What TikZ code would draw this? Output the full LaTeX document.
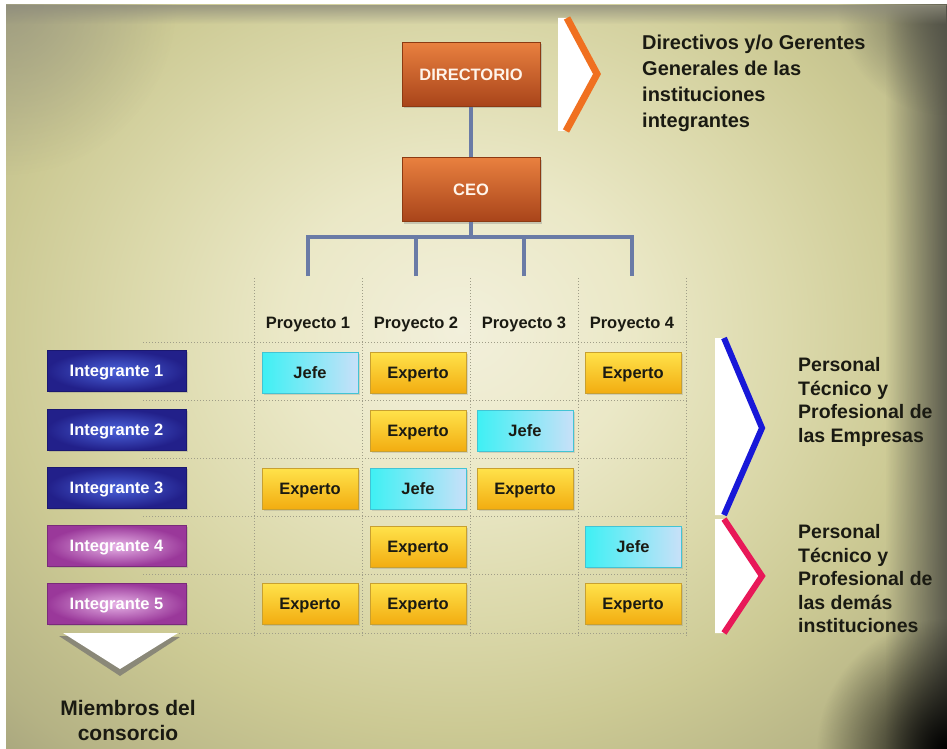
\documentclass[tikz,border=0pt]{standalone}
\usepackage{fontspec}
\setmainfont{Liberation Sans}
\usetikzlibrary{fadings,shadows}

\definecolor{orTop}{HTML}{E8803F}
\definecolor{orBot}{HTML}{A9441A}
\definecolor{orEdge}{HTML}{8C3A12}
\definecolor{connC}{HTML}{6A7BA6}
\definecolor{gridC}{HTML}{A09E88}
\definecolor{bluIn}{HTML}{4A62DA}
\definecolor{bluOut}{HTML}{22208A}
\definecolor{bluEdge}{HTML}{1A1870}
\definecolor{purIn}{HTML}{E6B2E6}
\definecolor{purOut}{HTML}{9A389A}
\definecolor{purEdge}{HTML}{7A2A7A}
\definecolor{jefeL}{HTML}{3EF0F4}
\definecolor{jefeM}{HTML}{EEFCFD}
\definecolor{jefeR}{HTML}{C8E0F8}
\definecolor{jefeEdge}{HTML}{42C4D4}
\definecolor{expTop}{HTML}{FFE24A}
\definecolor{expBot}{HTML}{F2AC10}
\definecolor{expEdge}{HTML}{C8A030}
\definecolor{chevOr}{HTML}{F07020}
\definecolor{chevBl}{HTML}{1818D8}
\definecolor{chevPk}{HTML}{E81858}
\definecolor{txtC}{HTML}{1A1A12}
\definecolor{darkR}{HTML}{505046}
\definecolor{grayTL}{HTML}{8E8C7C}
\definecolor{shadowC}{HTML}{8A8878}

\pgfdeclareradialshading{bgrad}{\pgfpoint{0bp}{0bp}}{rgb(0bp)=(0.95,0.94,0.86); rgb(8bp)=(0.92,0.91,0.78); rgb(15bp)=(0.86,0.85,0.67); rgb(21bp)=(0.80,0.79,0.58); rgb(28bp)=(0.71,0.70,0.52); rgb(35bp)=(0.58,0.57,0.45); rgb(50bp)=(0.50,0.49,0.40)}

\tikzfading[name=fadeR, left color=transparent!100, right color=transparent!0]
\tikzfading[name=fadeT, top color=transparent!0, bottom color=transparent!100]
\tikzfading[name=fadeC, inner color=transparent!0, outer color=transparent!100]

\begin{document}
\begin{tikzpicture}[x=1pt,y=-1pt,
  orangebox/.style={rectangle, minimum width=138pt, minimum height=64pt, top color=orTop, bottom color=orBot, draw=orEdge, line width=1pt, text=white!92!orange, font=\bfseries\fontsize{16.5}{18}\selectfont, text height=11.8pt, text depth=0pt, drop shadow={shadow xshift=2pt,shadow yshift=-2pt,opacity=.35}},
  conn/.style={draw=connC, line width=4pt},
  gridline/.style={draw=gridC, line width=1pt, dash pattern=on 1pt off 2pt},
  header/.style={text=txtC, font=\bfseries\fontsize{16.5}{18}\selectfont, inner sep=0pt, anchor=base},
  cellbox/.style={rectangle, minimum width=96pt, minimum height=41pt, line width=1pt, text=txtC, font=\bfseries\fontsize{16.5}{18}\selectfont, text height=11.8pt, text depth=0pt, drop shadow={shadow xshift=1.5pt,shadow yshift=-1.5pt,opacity=.25}},
  jefe/.style={cellbox, left color=jefeL, middle color=jefeM, right color=jefeR, draw=jefeEdge},
  experto/.style={cellbox, top color=expTop, bottom color=expBot, draw=expEdge},
  intbox/.style={rectangle, minimum width=139pt, minimum height=41pt, line width=1pt, text=white, font=\bfseries\fontsize{16.5}{18}\selectfont, text height=11.8pt, text depth=0pt, drop shadow={shadow xshift=1.5pt,shadow yshift=-1.5pt,opacity=.3}},
  intblue/.style={intbox, inner color=bluIn, outer color=bluOut, draw=bluEdge},
  intpurple/.style={intbox, inner color=purIn, outer color=purOut, draw=purEdge},
  note/.style={text=txtC, align=left, inner sep=0pt, font=\bfseries\fontsize{19.5}{23.5}\selectfont}
]
\useasboundingbox (0,0) rectangle (947,749);
\fill[white] (0,0) rectangle (947,749);

% background
\begin{scope}
\clip (6,5) rectangle (947,749);
\shade[shading=bgrad] (-90,-145) rectangle (1010,805);
\fill[darkR, path fading=fadeR, opacity=.9] (885,5) rectangle (947,749);
\fill[black, path fading=fadeC] (947,749) circle (130);
\fill[darkR, path fading=fadeC, opacity=.8] (947,5) circle (110);
\fill[grayTL, path fading=fadeC, opacity=.6] (6,5) circle (170);
\fill[grayTL, path fading=fadeT, opacity=.8] (6,5) rectangle (947,24);
\end{scope}

% grid
\foreach \gx in {254,362,470,578,686} {
  \draw[gridline] (\gx,278) -- (\gx,636);
}
\foreach \gy in {342,400,458,516,574,633} {
  \draw[gridline] (143,\gy) -- (688,\gy);
}

% top boxes
\node[orangebox] (dir) at (471,74.5) {DIRECTORIO};
\node[orangebox] (ceo) at (471,189.5) {CEO};
\draw[conn] (dir) -- (ceo);

\coordinate (bar) at (471,237);
\coordinate (p1) at (308,276);
\coordinate (p2) at (416,276);
\coordinate (p3) at (524,276);
\coordinate (p4) at (632,276);
\draw[conn] (ceo.south) -- (bar);
\draw[conn] (p1) |- (bar) -| (p4);
\draw[conn] (p2) -- (p2 |- bar);
\draw[conn] (p3) -- (p3 |- bar);

% headers
\node[header] (h1) at (308,328) {Proyecto 1};
\node[header] (h2) at (416,328) {Proyecto 2};
\node[header] (h3) at (524,328) {Proyecto 3};
\node[header] (h4) at (632,328) {Proyecto 4};

% integrantes
\node[intblue] (i1) at (116.5,371) {Integrante 1};
\node[intblue] (i2) at (116.5,430) {Integrante 2};
\node[intblue] (i3) at (116.5,488) {Integrante 3};
\node[intpurple] (i4) at (116.5,546) {Integrante 4};
\node[intpurple] (i5) at (116.5,604) {Integrante 5};

% cells
\node[jefe] (c11) at (310,373) {Jefe};
\node[experto] (c12) at (418,373) {Experto};
\node[experto] (c14) at (633,373) {Experto};
\node[experto] (c22) at (418,431) {Experto};
\node[jefe] (c23) at (525,431) {Jefe};
\node[experto] (c31) at (310,489) {Experto};
\node[jefe] (c32) at (418,489) {Jefe};
\node[experto] (c33) at (525,489) {Experto};
\node[experto] (c42) at (418,547) {Experto};
\node[jefe] (c44) at (633,547) {Jefe};
\node[experto] (c51) at (310,604) {Experto};
\node[experto] (c52) at (418,604) {Experto};
\node[experto] (c54) at (633,604) {Experto};

% orange chevron
\fill[white] (558,18) -- (567,18) -- (597,74) -- (566,131) -- (558,131) -- cycle;
\draw[chevOr, line width=7pt, line join=miter] (567,18) -- (597,74) -- (566,131);

% blue chevron
\fill[white] (715,338) -- (724,338) -- (762,428) -- (724,515) -- (715,515) -- cycle;
\draw[chevBl, line width=6pt, line join=miter] (724,338) -- (762,428) -- (724,515);

% pink chevron
\fill[white] (715,519) -- (724,519) -- (762,576) -- (724,633) -- (715,633) -- cycle;
\draw[chevPk, line width=6pt, line join=miter] (724,519) -- (762,576) -- (724,633);

% down chevron
\fill[shadowC] (59,636) -- (180,637) -- (120,676) -- cycle;
\fill[white] (63,633) -- (178,633) -- (120,669) -- cycle;

% notes
\node[note, anchor=west, font=\bfseries\fontsize{20}{26}\selectfont] (n1) at (642,83) {Directivos y/o Gerentes\\Generales de las\\instituciones\\integrantes};
\node[note, anchor=west] (n2) at (798,402) {Personal\\Técnico y\\Profesional de\\las Empresas};
\node[note, anchor=west] (n3) at (798,579) {Personal\\Técnico y\\Profesional de\\las demás\\instituciones};
\node[note, align=center, font=\bfseries\fontsize{21}{25}\selectfont] (n4) at (128,720) {Miembros del\\consorcio};
\end{tikzpicture}
\end{document}
